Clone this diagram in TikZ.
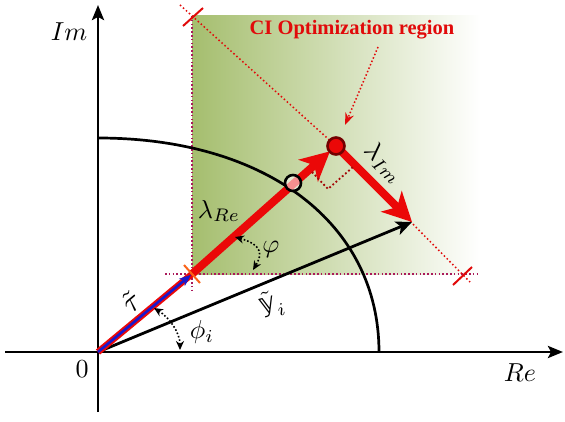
\documentclass[tikz,border=0pt]{standalone}
\usepackage{amsmath}
\usepackage{fontspec}
\newfontfamily\regionfont{Liberation Serif}
\newfontfamily\dsfont{DejaVu Sans}
\usetikzlibrary{arrows.meta,positioning,calc}
\definecolor{regiongreen}{RGB}{165,190,110}
\definecolor{vecred}{RGB}{235,8,8}
\definecolor{regionred}{RGB}{225,10,10}
\definecolor{guidecolor}{RGB}{170,25,90}
\definecolor{dotdark}{RGB}{115,0,0}
\definecolor{taublue}{RGB}{25,25,205}
\definecolor{tickorange}{RGB}{250,100,25}

\tikzset{
  axis/.style={line width=2.8pt,-{Stealth[length=15pt,width=12pt,inset=3pt]}},
  bigvec/.style={draw=vecred,line width=8pt,-{Stealth[length=29pt,width=29pt,inset=8pt]}},
  guide/.style={draw=guidecolor,line width=1.8pt,dash pattern=on 1.6pt off 2.2pt},
  ciline/.style={draw=regionred,line width=1.5pt,dash pattern=on 1.5pt off 2.5pt},
  endtick/.style={draw=regionred,line width=2pt},
  angarrow/.style={line width=1.6pt,dash pattern=on 1.6pt off 2pt,
    {Stealth[length=9pt,width=8pt]}-{Stealth[length=9pt,width=8pt]}},
  lbl/.style={scale=2.6,inner sep=0pt}
}

\begin{document}
\begin{tikzpicture}[x=1pt,y=1pt]
\useasboundingbox (0,0) rectangle (565,421);

% Points of the picture
\coordinate (O) at (98,69);
\coordinate (T) at (192,147);
\coordinate (P) at (336,275);
\coordinate (Q) at (412,199);
\coordinate (xmin) at (5,69);
\coordinate (xmax) at (563,69);
\coordinate (ymin) at (98,9);
\coordinate (ymax) at (98,416);

% Optimization region
\fill[left color=regiongreen,right color=white] (192,147) rectangle (480,405);
\draw[guide] (192,405) -- (192,129);
\draw[guide] (165,147) -- (480,147);

% Line through the vector tip
\coordinate (L1) at (180,416);
\coordinate (L2) at (470,139);
\draw[ciline] (L1) -- (P) -- (L2);
\draw[endtick] (183,395) -- (203,413);
\draw[endtick] (453,136) -- (472,154);

% Unit circle
\draw[line width=2.7pt] (98,283) .. controls (267,283) and (379,197) .. (379,69);

% Axes
\draw[axis] (xmin) -- (xmax);
\draw[axis] (ymin) -- (ymax);

% Vectors
\draw[line width=2.8pt,-{Stealth[length=16pt,width=14pt,inset=4pt]}] (O) -- (Q);
\draw[vecred,line width=6.5pt] (O) -- (T);
\draw[taublue,line width=2.6pt,-{Stealth[length=12pt,width=9pt,inset=3pt]},shorten >=1pt] (O) -- (T);
\draw[bigvec,shorten >=8pt] (T) -- (P);
\draw[bigvec] (P) -- (Q);
\draw[tickorange,line width=2pt] (184,156) -- (200,138);

% Right angle
\draw[draw=vecred!70!black,line width=1.8pt,dash pattern=on 1.8pt off 2.4pt]
  (312,249) -- (328,232) -- (353,254);

% Markers
\node[
circle,
draw=black,
line width=2.6pt,
fill=white,
fill opacity=0.55,
minimum size=16pt,
inner sep=0pt
] (cut) at (293,238) {};
\node[
circle,
draw=dotdark,
line width=2.6pt,
fill=vecred,
minimum size=17pt,
inner sep=0pt
] (tip) at (P) {};

% Angles
\coordinate (phiA) at (235,184);
\coordinate (phiB) at (253,151);
\coordinate (phiiA) at (154,113);
\coordinate (phiiB) at (180,71);
\draw[angarrow] (phiA) .. controls (263,176) and (262,166) .. (phiB);
\draw[angarrow] (phiiA) .. controls (170,103) and (180,88) .. (phiiB);

% Labels
\node[lbl] (imlbl) at (69,389) {$Im$};
\node[lbl] (relbl) at (520,48) {$Re$};
\node[lbl] (zero) at (82,52) {$0$};
\node[lbl] (lre) at (219,210) {$\lambda_{Re}$};
\node[lbl,rotate=-45] (lim) at (384,258) {$\lambda_{Im}$};
\node[lbl] (phi) at (271,172) {$\varphi$};
\node[lbl] (phii) at (202,89) {$\phi_i$};
\node[lbl,scale=1.15,rotate=40] (tau) at (131,119) {$\tilde{\tau}$};
\node[lbl,rotate=15] (yi) at (272,117) {$\tilde{\text{\dsfont 𝕪}}_i$};

% Region label
\node[
font=\regionfont\bfseries\fontsize{20.5}{24}\selectfont,
text=regionred
] (region) at (352,391) {CI Optimization region};
\coordinate (ptrA) at (378,374);
\coordinate (ptrB) at (345,296);
\draw[regionred,line width=1.5pt,dash pattern=on 1.5pt off 2.2pt,
  -{Stealth[length=12pt,width=9pt]}] (ptrA) -- (ptrB);

\end{tikzpicture}
\end{document}
